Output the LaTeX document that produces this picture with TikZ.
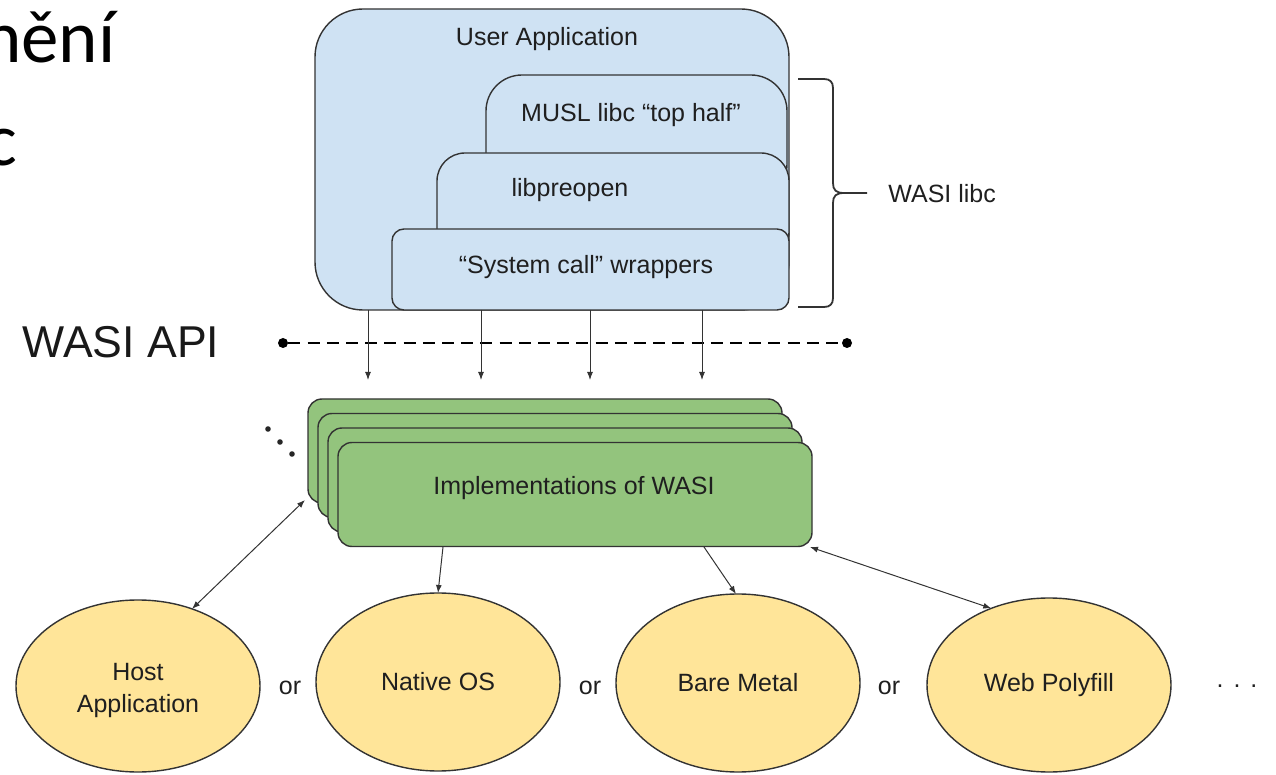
\documentclass[tikz,border=0pt]{standalone}
\usepackage{fontspec}
\setmainfont{Liberation Sans}
\newfontfamily\slidefont{Carlito}
\usetikzlibrary{arrows.meta,shapes.geometric}
\definecolor{appblue}{HTML}{CFE2F3}
\definecolor{implgreen}{HTML}{93C47D}
\definecolor{hostyellow}{HTML}{FFE599}
\definecolor{edgecol}{HTML}{333333}
\begin{document}
\begin{tikzpicture}[x=0.5pt,y=-0.5pt,
  layerbox/.style={draw=edgecol, line width=0.7pt, fill=appblue, inner sep=0pt, outer sep=0pt, anchor=north west},
  lbl/.style={font=\fontsize{12.5}{16}\selectfont, text=black!88, inner sep=0pt},
  implbox/.style={draw=edgecol, line width=0.7pt, fill=implgreen, rounded corners=7pt, inner sep=0pt, outer sep=0pt, anchor=north west, minimum width=237pt, minimum height=52pt},
  hostell/.style={ellipse, draw=edgecol, line width=0.7pt, fill=hostyellow, inner sep=0pt, outer sep=0pt, minimum width=122pt, align=center, font=\fontsize{12.5}{16}\selectfont, text=black!88},
  conn/.style={draw=edgecol, line width=0.5pt, -{Latex[length=4pt,width=3pt]}},
  biconn/.style={draw=edgecol, line width=0.5pt, {Latex[length=4pt,width=3pt]}-{Latex[length=4pt,width=3pt]}},
  apidot/.style={circle, fill=black, inner sep=0pt, minimum size=5pt},
  smalldot/.style={circle, fill=black!85, inner sep=0pt, minimum size=2.8pt}
]
\useasboundingbox (0,0) rectangle (1276,775);
\clip (0,0) rectangle (1276,775);

% slide text cut at the left edge
\node[anchor=base east, inner sep=0pt, font=\slidefont\fontsize{37.5}{45}\selectfont] (slideA) at (116,63) {nění};
\node[anchor=base east, inner sep=0pt, font=\slidefont\fontsize{37.5}{45}\selectfont] (slideB) at (18,166) {c};

% user application stack
\node[layerbox, rounded corners=24pt, minimum width=237pt, minimum height=150.5pt] (app) at (315,9) {};
\node[layerbox, rounded corners=18pt, minimum width=150.5pt, minimum height=62.5pt] (musl) at (486,75) {};
\node[layerbox, rounded corners=14pt, minimum width=176pt, minimum height=53.5pt] (preopen) at (437,153) {};
\node[layerbox, rounded corners=6pt, minimum width=198.5pt, minimum height=40.5pt] (sys) at (392,229) {};

\node[lbl] (appT) at (547,39) {User Application};
\node[lbl] (muslT) at (631,115) {MUSL libc “top half”};
\node[lbl] (preopenT) at (570,190) {libpreopen};
\node[lbl] (sysT) at (586,267) {“System call” wrappers};

% brace
\draw[edgecol, line width=0.9pt, line join=round]
  (798,79) -- (824,79) .. controls (830,79) and (833,82) .. (833,88)
  -- (833,183) .. controls (833,190) and (836,193) .. (844,193) -- (867,193)
  (844,193) .. controls (836,193) and (833,196) .. (833,203)
  -- (833,298) .. controls (833,304) and (830,307) .. (824,307) -- (798,307);
\node[lbl, anchor=west] (libcT) at (888,194) {WASI libc};

% WASI API line
\node[font=\fontsize{22.3}{26}\selectfont, inner sep=0pt, text=black!90] (apiT) at (121,342) {WASI API};
\node[apidot] (apiL) at (283,343) {};
\node[apidot] (apiR) at (847,343) {};
\draw[black, line width=1pt, dash pattern=on 6pt off 3.6pt] (apiL) -- (apiR);

% arrows into implementations
\coordinate (t1) at (368,380);
\coordinate (t2) at (481,380);
\coordinate (t3) at (590,380);
\coordinate (t4) at (702,380);
\draw[conn] (app.south -| t1) -- (t1);
\draw[conn] (sys.south -| t2) -- (t2);
\draw[conn] (sys.south -| t3) -- (t3);
\draw[conn] (sys.south -| t4) -- (t4);

% implementations stack
\foreach \k in {0,1,2,3}
  \node[implbox] (g\k) at ({308+10*\k},{399+14.5*\k}) {};
\node[lbl] (implT) at (574,488) {Implementations of WASI};

\node[smalldot] (d1) at (268,429) {};
\node[smalldot] (d2) at (280,442) {};
\node[smalldot] (d3) at (292,454) {};

% hosts
\node[hostell, minimum height=86pt] (host) at (138,686) {};
\node[lbl, align=center] (hostT) at (138,690) {Host\\Application};
\node[hostell, minimum height=89pt] (native) at (438,682) {Native OS};
\node[hostell, minimum height=89pt] (bare) at (738,683) {Bare Metal};
\node[hostell, minimum height=87pt] (web) at (1049,685) {Web Polyfill};

\node[lbl] (or1) at (290,688) {or};
\node[lbl] (or2) at (590,688) {or};
\node[lbl] (or3) at (889,688) {or};
\node[lbl] (more) at (1237,686) {.\hspace{5pt}.\hspace{5pt}.};

% connectors to hosts
\coordinate (s1) at (305,500);
\coordinate (s2) at (443,547);
\coordinate (s3) at (704,547);
\coordinate (s4) at (810,547);
\draw[biconn] (s1) -- (host.55);
\draw[conn] (s2) -- (native.north);
\draw[conn] (s3) -- ([xshift=-1pt]bare.north);
\draw[biconn] (s4) -- (web.127);
\end{tikzpicture}
\end{document}
